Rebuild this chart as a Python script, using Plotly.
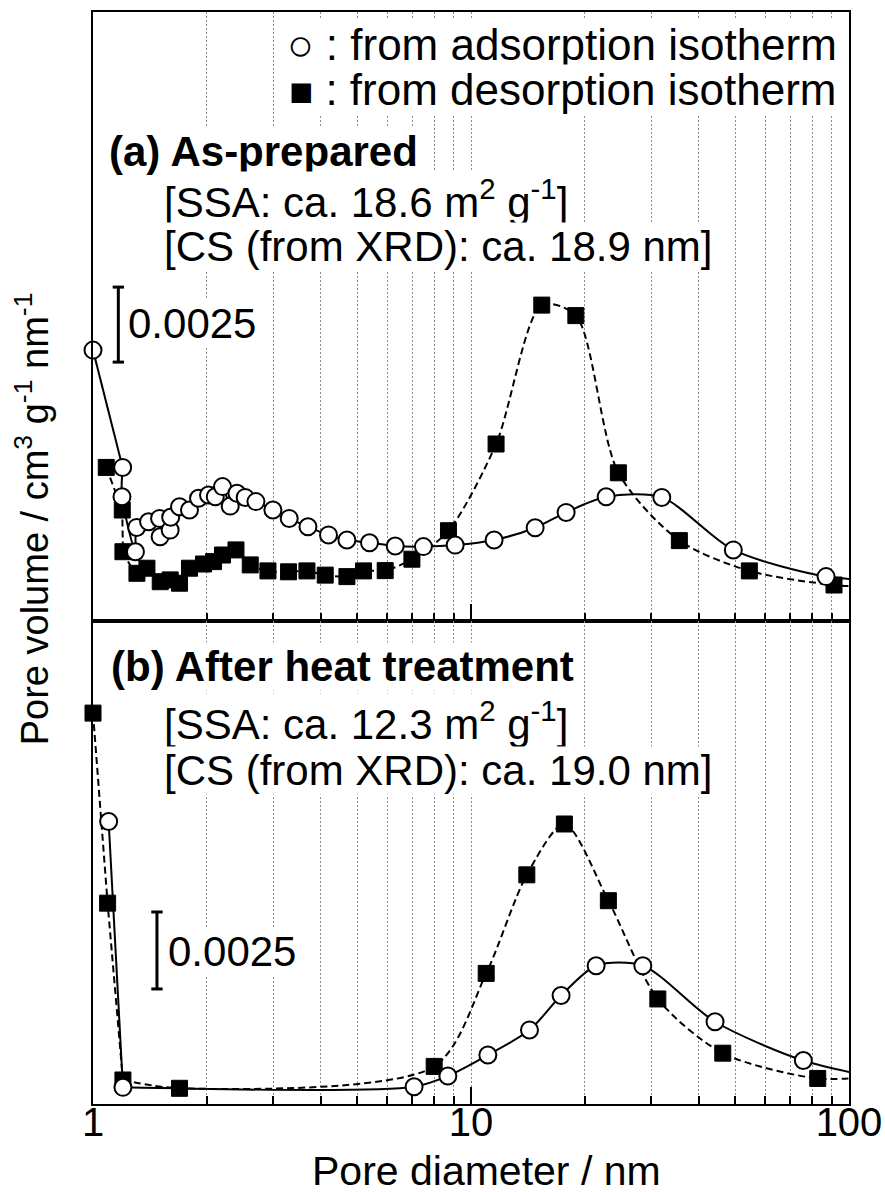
import plotly.graph_objects as go

# Pore size distributions (BJH), pore diameter in nm, pore volume in cm3 g-1 nm-1
# (a) As-prepared
ads_a_d = [1.0, 1.198, 1.193, 1.295, 1.305, 1.403, 1.50, 1.505, 1.60, 1.605, 1.694, 1.80,
           1.902, 2.021, 2.106, 2.201, 2.307, 2.403, 2.527, 2.698, 2.992, 3.304, 3.704,
           4.198, 4.696, 5.389, 6.302, 7.485, 9.08, 11.51, 14.78, 17.85, 22.78, 31.97,
           49.43, 86.96, 120.8]
ads_a_v = [0.00903, 0.00512, 0.00414, 0.00231, 0.00312, 0.00331, 0.00342, 0.00281, 0.00303,
           0.00346, 0.00381, 0.00370, 0.00409, 0.00420, 0.00414, 0.00448, 0.00383, 0.00426,
           0.00412, 0.00398, 0.00370, 0.00342, 0.00314, 0.00287, 0.00270, 0.00261, 0.00250,
           0.00248, 0.00253, 0.00270, 0.00311, 0.00362, 0.00414, 0.00412, 0.00237, 0.00148,
           0.00137]

des_a_d = [1.084, 1.195, 1.20, 1.307, 1.389, 1.506, 1.60, 1.694, 1.80, 1.961, 2.084, 2.201,
           2.389, 2.606, 2.903, 3.291, 3.681, 4.115, 4.696, 5.195, 5.929, 6.977, 8.718,
           11.65, 15.39, 18.94, 24.54, 35.58, 54.50, 91.28, 120.8]
des_a_v = [0.00512, 0.00370, 0.00231, 0.00159, 0.00176, 0.00131, 0.00137, 0.00126, 0.00176,
           0.00190, 0.00198, 0.00220, 0.00237, 0.00187, 0.00167, 0.00164, 0.00167, 0.00153,
           0.00148, 0.00167, 0.00168, 0.00206, 0.00301, 0.00590, 0.01053, 0.01018, 0.00494,
           0.00268, 0.00167, 0.00120, 0.00113]

# (b) After heat treatment
ads_b_d = [1.10, 1.200, 7.07, 8.686, 11.08, 14.28, 17.31, 21.43, 28.48, 44.22, 75.72, 120.8]
ads_b_v = [0.00917, 0.00054, 0.00056, 0.00091, 0.00159, 0.00240, 0.00352, 0.00449, 0.00449,
           0.00267, 0.00141, 0.00084]

des_b_d = [1.0, 1.093, 1.200, 1.694, 7.99, 10.97, 14.05, 17.66, 23.09, 31.21, 46.35, 82.65,
           120.8]
des_b_v = [0.01269, 0.00652, 0.00078, 0.00051, 0.00122, 0.00424, 0.00744, 0.00909, 0.00660,
           0.00341, 0.00165, 0.00083, 0.00092]

major_ticks = [1, 10, 100]
major_text = ["1", "10", "100"]
minor_ticks = [2, 3, 4, 5, 6, 7, 8, 9, 20, 30, 40, 50, 60, 70, 80, 90]

SCALE = 0.0025  # length of the vertical scale bar
X_MAX = 100

FONT = "Liberation Sans, Arial, sans-serif"
Y_SPLIT = 0.4423

fig = go.Figure()


def add_series(d, v, xa, ya, filled, dashed, steep):
    """Straight segments over the steep micropore drop, smooth curve after it."""
    dash = "7px,4px" if dashed else "solid"
    parts = [(0, steep + 1, "linear"), (steep, len(d), "spline")]
    for a, b, shape in parts:
        if b - a < 2:
            continue
        fig.add_trace(go.Scatter(
            x=d[a:b], y=v[a:b], mode="lines", xaxis=xa, yaxis=ya,
            line=dict(color="black", width=2, shape=shape, smoothing=0.8, dash=dash),
            hoverinfo="skip", showlegend=False))
    keep = [i for i, x in enumerate(d) if x <= X_MAX]
    if filled:
        marker = dict(symbol="square", size=16, color="black",
                      line=dict(color="black", width=1))
    else:
        marker = dict(symbol="circle", size=17, color="white",
                      line=dict(color="black", width=2))
    fig.add_trace(go.Scatter(x=[d[i] for i in keep], y=[v[i] for i in keep], mode="markers",
                             marker=marker, xaxis=xa, yaxis=ya, cliponaxis=False,
                             showlegend=False))


add_series(des_a_d, des_a_v, "x", "y", True, True, 2)
add_series(ads_a_d, ads_a_v, "x", "y", False, False, 1)
add_series(des_b_d, des_b_v, "x2", "y2", True, True, 2)
add_series(ads_b_d, ads_b_v, "x2", "y2", False, False, 1)

grid = dict(showgrid=True, gridcolor="#8a8a8a", gridwidth=1, griddash="2px,2px")
xcommon = dict(type="log", range=[0, 2], showline=True, linecolor="black", linewidth=2,
               mirror=True, ticks="inside", ticklen=17, tickwidth=2, tickcolor="black",
               tickmode="array", tickvals=major_ticks, ticktext=major_text,
               zeroline=False, automargin=False,
               minor=dict(tickmode="array", tickvals=minor_ticks, ticks="inside", ticklen=8,
                          tickwidth=1.5, tickcolor="black", **grid),
               **grid)
ycommon = dict(showline=True, linecolor="black", linewidth=2, mirror=True, ticks="",
               showticklabels=False, showgrid=False, zeroline=False, automargin=False)

fig.update_layout(
    width=885, height=1192,
    margin=dict(l=93, r=36, t=12, b=88),
    paper_bgcolor="white", plot_bgcolor="white",
    font=dict(family=FONT, color="black"),
    xaxis=dict(anchor="y", showticklabels=False, **xcommon),
    xaxis2=dict(anchor="y2", matches="x", showticklabels=True, ticklabelstandoff=-18,
                tickfont=dict(size=40, family=FONT), **xcommon),
    yaxis=dict(domain=[Y_SPLIT, 1], range=[0, 0.0203], **ycommon),
    yaxis2=dict(domain=[0, Y_SPLIT], range=[0, 0.01568], **ycommon),
)


def note(text, x, y, xanchor="left", size=42, bold=False, angle=0, bg="white"):
    fig.add_annotation(text=f"<b>{text}</b>" if bold else text, x=x, y=y,
                       xref="paper", yref="paper", xanchor=xanchor, yanchor="middle",
                       showarrow=False, textangle=angle, bgcolor=bg, borderpad=0,
                       font=dict(size=size, family=FONT, color="black"))


# legend
note("<span style='font-size:44px'>○</span> : from adsorption isotherm", 0.985, 0.970,
     "right", size=44)
note("<span style='font-size:40px'>■</span> : from desorption isotherm", 0.985, 0.929,
     "right", size=44)

# panel labels
note("(a) As-prepared", 0.020, 0.872, bold=True)
note("[SSA: ca. 18.6 m<sup>2</sup> g<sup>-1</sup>]", 0.093, 0.829)
note("[CS (from XRD): ca. 18.9 nm]", 0.093, 0.785)
note("(b) After heat treatment", 0.022, 0.401, bold=True)
note("[SSA: ca. 12.3 m<sup>2</sup> g<sup>-1</sup>]", 0.093, 0.351)
note("[CS (from XRD): ca. 19.0 nm]", 0.093, 0.305)

# scale bars
bars = [("y", 0.0335, 0.00863, 0.0455, 0.7143), ("y2", 0.0846, 0.003734, 0.0983, 0.1392)]
cap = 0.0075
for yref, xp, y0, tx, ty in bars:
    fig.add_shape(type="line", xref="paper", yref=yref, x0=xp, x1=xp, y0=y0, y1=y0 + SCALE,
                  line=dict(color="black", width=3))
    for yy in (y0, y0 + SCALE):
        fig.add_shape(type="line", xref="paper", yref=yref, x0=xp - cap, x1=xp + cap,
                      y0=yy, y1=yy, line=dict(color="black", width=3))
    note(f"{SCALE:.4f}", tx, ty)

# axis titles
note("Pore diameter / nm", 0.52, -0.0615, "center", size=41, bg="rgba(0,0,0,0)")
fig.add_annotation(text="Pore volume / cm<sup>3</sup> g<sup>-1</sup> nm<sup>-1</sup>",
                   x=-0.0803, y=0.5357, xref="paper", yref="paper", xanchor="center",
                   yanchor="middle", showarrow=False, textangle=-90,
                   font=dict(size=38, family=FONT, color="black"))

fig.write_html("out.html")
